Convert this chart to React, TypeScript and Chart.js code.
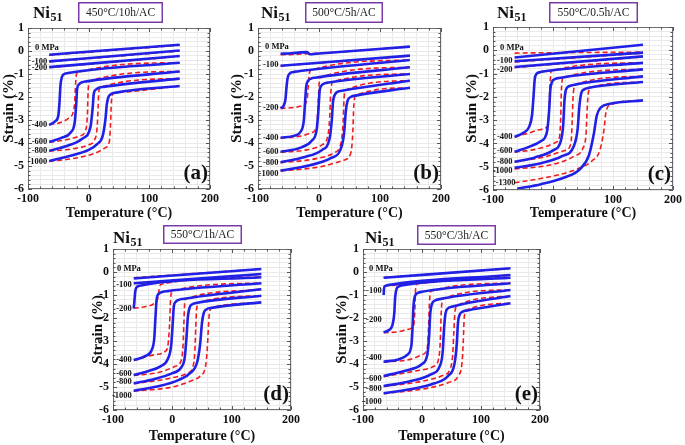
import React, { useEffect, useRef } from 'react';
import { Chart, registerables } from 'chart.js';

Chart.register(...registerables);

const FONT = "'Liberation Serif', 'Times New Roman', 'DejaVu Serif', serif";
const BLUE = '#2020e6';
const RED = '#f01c1c';

// ---------- Tick labels ----------
const X_TICK_LABELS = ['-100', '0', '100', '200'];
const Y_TICK_LABELS = ['1', '0', '-1', '-2', '-3', '-4', '-5', '-6'];

// ---------- Panel (a) 450°C/10h/AC ----------
const A_LABELS = ['0 MPa', '-100', '-200', '-400', '-600', '-800', '-1000'];
const A_LABEL_Y = [0.12, -0.45, -0.74, -3.22, -3.95, -4.34, -4.81];
const A_COOL = [
  [-65, -0.16, 150, 0.27],
  [-65, -0.45, 150, 0.02],
  [-65, -0.7, 150, -0.22],
  [-65, -3.22, -55, -3.05, -50, -2.8, -48, -2.2, -46.5, -1.5, -44, -1.12, -40, -1.0, -34, -0.96, 150, -0.51],
  [-65, -3.95, -45, -3.78, -30, -3.55, -23, -3.1, -20.5, -2.3, -19, -1.65, -16, -1.45, -11, -1.36, -4, -1.32, 150, -0.89],
  [-65, -4.34, -35, -4.12, -10, -3.8, 3, -3.3, 6.5, -2.5, 8.5, -1.85, 12, -1.68, 17, -1.6, 25, -1.56, 150, -1.2],
  [-65, -4.78, -30, -4.55, 0, -4.3, 14, -4.05, 23, -3.7, 27.5, -3.0, 30, -2.3, 33, -1.98, 37, -1.87, 45, -1.81, 150, -1.52],
];
const A_HEAT = [
  [-65, -0.18, 150, 0.25],
  [-65, -0.47, 150, 0.0],
  [-65, -0.72, 150, -0.23],
  [-65, -3.2, -45, -3.1, -33, -2.92, -26, -2.7, -23, -2.2, -21.5, -1.4, -19.5, -0.95, 150, -0.51],
  [-65, -3.97, -35, -3.85, -15, -3.7, -5, -3.45, -2, -2.7, -1, -1.8, 1.5, -1.31, 150, -0.89],
  [-65, -4.36, -25, -4.25, 0, -4.08, 10, -3.85, 14, -3.3, 15.5, -2.5, 16.5, -1.85, 19, -1.58, 150, -1.2],
  [-65, -4.8, -20, -4.65, 10, -4.45, 28, -4.2, 34, -3.95, 36, -3.2, 37.5, -2.2, 39.5, -1.88, 50, -1.8, 150, -1.52],
];

// ---------- Panel (b) 500°C/5h/AC ----------
const B_LABELS = ['0 MPa', '-100', '-200', '-400', '-600', '-800', '-1000'];
const B_LABEL_Y = [0.19, -0.61, -2.49, -3.77, -4.38, -4.84, -5.35];
const B_COOL = [
  [-63, -0.12, -45, -0.1, -30, -0.06, -20, -0.05, -15, -0.14, -5, -0.12, 149, 0.19],
  [-63, -0.64, 149, -0.2],
  [-63, -2.49, -58, -2.38, -55, -2.1, -53, -1.5, -51, -1.12, -48, -0.98, -43, -0.92, -36, -0.89, 149, -0.39],
  [-63, -3.77, -40, -3.68, -30, -3.5, -25, -3.05, -23, -2.3, -21, -1.55, -18, -1.3, -13, -1.2, -6, -1.16, 149, -0.71],
  [-63, -4.38, -30, -4.2, -12, -3.9, -4, -3.45, -1, -2.6, 1, -1.75, 4, -1.5, 9, -1.41, 16, -1.37, 149, -1.0],
  [-63, -4.84, -25, -4.62, 5, -4.3, 17, -3.85, 21, -3.0, 23, -2.2, 26, -1.9, 31, -1.77, 40, -1.72, 149, -1.29],
  [-63, -5.2, -15, -4.97, 20, -4.65, 35, -4.3, 41, -3.6, 44, -2.6, 47, -2.15, 52, -2.0, 62, -1.93, 149, -1.6],
];
const B_HEAT = [
  [-63, -0.16, -40, -0.15, -20, -0.12, 0, -0.1, 149, 0.19],
  [-63, -0.65, 149, -0.21],
  [-63, -2.5, -40, -2.45, -26, -2.36, -19.5, -2.1, -17.5, -1.5, -16, -1.0, -13, -0.83, 149, -0.39],
  [-63, -3.78, -30, -3.7, -12, -3.55, -4, -3.3, -1.5, -2.4, 0, -1.5, 3, -1.13, 149, -0.71],
  [-63, -4.4, -20, -4.3, 5, -4.08, 14, -3.75, 17.5, -2.9, 19, -1.95, 22, -1.35, 149, -1.0],
  [-63, -4.86, -5, -4.68, 25, -4.42, 36, -4.0, 39.5, -3.1, 41, -2.1, 44, -1.7, 149, -1.29],
  [-63, -5.22, 5, -5.02, 40, -4.75, 52, -4.45, 55.5, -3.5, 57, -2.4, 60, -1.94, 149, -1.6],
];

// ---------- Panel (c) 550°C/0.5h/AC ----------
const C_LABELS = ['0 MPa', '-100', '-200', '-400', '-600', '-800', '-1000', '-1300'];
const C_LABEL_Y = [0.1, -0.47, -0.83, -3.72, -4.32, -4.79, -5.18, -5.69];
const C_COOL = [
  [-64, -0.31, 150, 0.24],
  [-64, -0.47, 150, -0.1],
  [-64, -0.72, 150, -0.26],
  [-64, -3.72, -50, -3.55, -40, -3.3, -35, -2.8, -32.5, -2.0, -30.5, -1.25, -27.5, -1.02, -22, -0.94, -14, -0.9, 150, -0.54],
  [-64, -4.36, -40, -4.15, -20, -3.9, -10, -3.5, -6.5, -2.6, -4.5, -1.7, -1.5, -1.35, 3, -1.24, 10, -1.19, 150, -0.82],
  [-64, -4.79, -30, -4.6, 0, -4.3, 13, -3.9, 17, -3.2, 19, -2.2, 21.5, -1.7, 26, -1.55, 34, -1.49, 150, -1.12],
  [-64, -5.05, -20, -4.85, 15, -4.55, 35, -4.1, 41, -3.4, 44, -2.4, 47, -1.85, 52, -1.68, 60, -1.61, 150, -1.36],
  [-59, -5.94, -20, -5.75, 20, -5.45, 45, -5.1, 60, -4.5, 68, -3.6, 73, -2.8, 80, -2.45, 95, -2.3, 150, -2.15],
];
const C_HEAT = [
  [-64, -0.12, -30, -0.11, 150, -0.08],
  [-64, -0.5, 150, -0.12],
  [-64, -0.74, 150, -0.28],
  [-64, -3.72, -40, -3.55, -20, -3.4, -9, -3.25, -6.5, -2.5, -5, -1.5, -3, -0.88, 150, -0.54],
  [-64, -4.38, -20, -4.2, 5, -3.95, 11, -3.7, 13, -2.8, 14, -1.7, 17, -1.17, 150, -0.82],
  [-64, -4.8, -10, -4.55, 20, -4.3, 30, -4.0, 32, -3.0, 33.5, -2.0, 37, -1.48, 150, -1.12],
  [-64, -5.1, 0, -4.9, 35, -4.55, 50, -4.2, 55, -3.6, 57, -2.5, 59, -1.8, 63, -1.6, 150, -1.36],
  [-64, -5.69, 0, -5.4, 40, -5.1, 65, -4.75, 78, -4.3, 85, -3.4, 88, -2.7, 95, -2.35, 150, -2.15],
];

// ---------- Panel (d) 550°C/1h/AC ----------
const D_LABELS = ['0 MPa', '-100', '-200', '-400', '-600', '-800', '-1000'];
const D_LABEL_Y = [0.16, -0.54, -1.58, -3.83, -4.41, -4.77, -5.38];
const D_COOL = [
  [-65, -0.28, 150, 0.13],
  [-65, -0.49, 150, -0.09],
  [-65, -1.58, -64, -1.3, -62.5, -0.85, -60, -0.66, -55, -0.6, 150, -0.23],
  [-65, -3.83, -45, -3.65, -35, -3.4, -30.5, -2.9, -28.5, -2.0, -26.5, -1.2, -23, -0.95, -17, -0.87, -8, -0.83, 150, -0.49],
  [-65, -4.48, -40, -4.3, -20, -4.1, -8, -3.8, -2, -3.2, 0.5, -2.3, 2.5, -1.5, 5.5, -1.3, 11, -1.21, 18, -1.17, 150, -0.75],
  [-65, -4.84, -30, -4.65, 0, -4.4, 15, -4.15, 21, -3.7, 24, -2.8, 26, -2.0, 29, -1.55, 34, -1.4, 42, -1.34, 150, -1.03],
  [-65, -5.16, -20, -4.95, 10, -4.7, 30, -4.4, 42, -3.9, 47, -3.1, 50, -2.2, 53, -1.78, 58, -1.62, 66, -1.56, 150, -1.32],
];
const D_HEAT = [
  [-65, -0.25, 150, 0.13],
  [-65, -0.5, 150, -0.1],
  [-65, -1.58, -45, -1.5, -30, -1.35, -24, -1.1, -22, -0.7, -19, -0.53, 150, -0.23],
  [-65, -3.85, -30, -3.6, -12, -3.45, -7, -3.1, -4.5, -2.2, -3, -1.2, 0, -0.82, 150, -0.49],
  [-65, -4.5, -20, -4.35, 5, -4.1, 15, -3.85, 18, -3.2, 19.5, -2.2, 21, -1.3, 24, -1.16, 150, -0.75],
  [-65, -4.86, -10, -4.65, 25, -4.4, 35, -4.1, 38, -3.4, 39.5, -2.4, 41, -1.6, 45, -1.33, 150, -1.03],
  [-65, -5.18, 0, -5.0, 30, -4.75, 48, -4.5, 56, -4.1, 59, -3.3, 61, -2.3, 63, -1.7, 68, -1.55, 150, -1.32],
];

// ---------- Panel (e) 550°C/3h/AC ----------
const E_LABELS = ['0 MPa', '-100', '-200', '-400', '-600', '-800', '-1000'];
const E_LABEL_Y = [0.16, -0.81, -2.09, -3.72, -4.65, -5.06, -5.64];
const E_COOL = [
  [-65, -0.25, 150, 0.16],
  [-65, -1.0, -64.5, -0.75, -63, -0.62, -58, -0.57, 150, -0.13],
  [-65, -2.62, -56, -2.52, -50, -2.3, -47, -1.8, -45.5, -1.1, -43, -0.72, -39, -0.62, -32, -0.57, 150, -0.25],
  [-65, -3.9, -40, -3.8, -25, -3.6, -18, -3.2, -16, -2.4, -14.5, -1.5, -12, -1.05, -7, -0.91, 0, -0.86, 150, -0.49],
  [-65, -4.52, -30, -4.3, 0, -4.0, 9, -3.6, 12, -2.8, 14, -1.8, 17, -1.38, 22, -1.24, 30, -1.18, 150, -0.78],
  [-65, -4.96, -20, -4.75, 15, -4.45, 30, -4.1, 35, -3.5, 37.5, -2.4, 40, -1.78, 44, -1.58, 52, -1.5, 150, -1.04],
  [-65, -5.27, -20, -5.1, 20, -4.85, 45, -4.5, 55, -4.0, 59, -3.1, 61, -2.2, 64, -1.85, 69, -1.72, 77, -1.67, 150, -1.36],
];
const E_HEAT = [
  [-65, -0.24, 150, 0.15],
  [-65, -0.62, 150, -0.14],
  [-65, -2.64, -40, -2.6, -25, -2.5, -14, -2.3, -12, -1.6, -11, -0.8, -9, -0.52, 150, -0.25],
  [-65, -3.92, -20, -3.8, 0, -3.6, 9, -3.3, 11, -2.5, 12.5, -1.4, 15, -0.83, 150, -0.49],
  [-65, -4.55, -10, -4.3, 20, -4.1, 28, -3.8, 31, -3.0, 32.5, -1.8, 35, -1.17, 150, -0.78],
  [-65, -4.98, 0, -4.75, 35, -4.5, 48, -4.2, 52, -3.6, 54, -2.6, 56, -1.7, 60, -1.46, 150, -1.04],
  [-65, -5.29, 10, -5.05, 45, -4.8, 62, -4.5, 68, -3.9, 70, -3.0, 71.5, -2.0, 75, -1.66, 150, -1.36],
];

// ---------- Layout (absolute page pixels) ----------
type Layout = {
  left: number; top: number; w: number; h: number;
  area: { l: number; t: number; r: number; b: number };
  ni: { x: number; y: number };
  box: { x: number; y: number; w: number; h: number };
  yTitlePad: number;
  zeroLabelDx: number;
};

type Panel = {
  key: string; cond: string; letter: string;
  labels: string[]; labelY: number[]; cool: number[][]; heat: number[][];
  layout: Layout;
};

const PANELS: Panel[] = [
  {
    key: 'a', cond: '450°C/10h/AC', letter: '(a)', labels: A_LABELS, labelY: A_LABEL_Y, cool: A_COOL, heat: A_HEAT,
    layout: { left: 0, top: 0, w: 228, h: 222, area: { l: 28, t: 28, r: 210, b: 189 }, ni: { x: 33, y: 18 }, box: { x: 78, y: 2, w: 85, h: 21 }, yTitlePad: 0, zeroLabelDx: 7 },
  },
  {
    key: 'b', cond: '500°C/5h/AC', letter: '(b)', labels: B_LABELS, labelY: B_LABEL_Y, cool: B_COOL, heat: B_HEAT,
    layout: { left: 228, top: 0, w: 228, h: 222, area: { l: 258, t: 28, r: 441, b: 189 }, ni: { x: 261, y: 18 }, box: { x: 305, y: 2, w: 78, h: 21 }, yTitlePad: 0.5, zeroLabelDx: 7 },
  },
  {
    key: 'c', cond: '550°C/0.5h/AC', letter: '(c)', labels: C_LABELS, labelY: C_LABEL_Y, cool: C_COOL, heat: C_HEAT,
    layout: { left: 456, top: 0, w: 229, h: 222, area: { l: 493, t: 27, r: 675, b: 190 }, ni: { x: 497, y: 18 }, box: { x: 549, y: 2, w: 89, h: 21 }, yTitlePad: 7, zeroLabelDx: 7 },
  },
  {
    key: 'd', cond: '550°C/1h/AC', letter: '(d)', labels: D_LABELS, labelY: D_LABEL_Y, cool: D_COOL, heat: D_HEAT,
    layout: { left: 91, top: 222, w: 229, h: 223, area: { l: 113, t: 249, r: 291, b: 410 }, ni: { x: 113, y: 243 }, box: { x: 163, y: 225, w: 79, h: 19 }, yTitlePad: -2, zeroLabelDx: 4 },
  },
  {
    key: 'e', cond: '550°C/3h/AC', letter: '(e)', labels: E_LABELS, labelY: E_LABEL_Y, cool: E_COOL, heat: E_HEAT,
    layout: { left: 330, top: 222, w: 230, h: 223, area: { l: 363, t: 249, r: 540, b: 410 }, ni: { x: 365, y: 243 }, box: { x: 417, y: 225, w: 79, h: 20 }, yTitlePad: 3, zeroLabelDx: 6 },
  },
];

function toPts(arr: number[]) {
  const pts: { x: number; y: number }[] = [];
  for (let i = 0; i < arr.length; i += 2) pts.push({ x: arr[i], y: arr[i + 1] });
  return pts;
}

function isInt(v: number) {
  return Math.abs(v - Math.round(v)) < 1e-6;
}

function PanelChart({ p }: { p: Panel }) {
  const ref = useRef<HTMLCanvasElement | null>(null);
  const L = p.layout;
  useEffect(() => {
    if (!ref.current) return;
    const ca = { l: L.area.l - L.left, t: L.area.t - L.top, r: L.area.r - L.left, b: L.area.b - L.top };

    const deco = {
      id: 'deco_' + p.key,
      afterDraw(chart: any) {
        const ctx = chart.ctx as CanvasRenderingContext2D;
        const { left, top, right, bottom } = chart.chartArea;
        const xs = chart.scales.x;
        const ys = chart.scales.y;
        ctx.save();
        // frame
        ctx.strokeStyle = '#6e6e6e';
        ctx.lineWidth = 1;
        ctx.strokeRect(left + 0.5, top + 0.5, right - left - 1, bottom - top - 1);
        // inner ticks
        ctx.strokeStyle = '#555';
        ctx.beginPath();
        xs.ticks.forEach((t: any) => {
          const px = Math.round(xs.getPixelForValue(t.value)) + 0.5;
          const len = t.value % 100 === 0 ? 4 : 2.5;
          ctx.moveTo(px, bottom); ctx.lineTo(px, bottom - len);
          ctx.moveTo(px, top); ctx.lineTo(px, top + len);
        });
        ys.ticks.forEach((t: any) => {
          const py = Math.round(ys.getPixelForValue(t.value)) + 0.5;
          const len = isInt(t.value) ? 4 : 2.5;
          ctx.moveTo(left, py); ctx.lineTo(left + len, py);
          ctx.moveTo(right, py); ctx.lineTo(right - len, py);
        });
        ctx.stroke();

        // title "Ni51"
        const nx = L.ni.x - L.left;
        const ny = L.ni.y - L.top;
        ctx.fillStyle = '#111';
        ctx.font = `bold 17px ${FONT}`;
        ctx.textAlign = 'left';
        ctx.textBaseline = 'alphabetic';
        ctx.fillText('Ni', nx, ny);
        const w = ctx.measureText('Ni').width;
        ctx.font = `bold 12px ${FONT}`;
        ctx.fillText('51', nx + w + 0.5, ny + 3);

        // condition box
        const bx = L.box.x - L.left;
        const by = L.box.y - L.top;
        ctx.strokeStyle = '#7a3aa8';
        ctx.lineWidth = 1.5;
        ctx.strokeRect(bx + 0.75, by + 0.75, L.box.w - 1.5, L.box.h - 1.5);
        ctx.font = `11.5px ${FONT}`;
        ctx.textAlign = 'center';
        ctx.textBaseline = 'middle';
        ctx.fillStyle = '#222';
        ctx.fillText(p.cond, bx + L.box.w / 2, by + L.box.h / 2 + 0.5);

        // panel letter
        ctx.font = `bold 21px ${FONT}`;
        ctx.textAlign = 'right';
        ctx.textBaseline = 'alphabetic';
        ctx.fillStyle = '#111';
        ctx.fillText(p.letter, right - 2, bottom - 10);

        // stress labels
        ctx.font = `bold 8.5px ${FONT}`;
        ctx.textBaseline = 'middle';
        p.labels.forEach((lab, i) => {
          const py = ys.getPixelForValue(p.labelY[i]);
          if (i === 0) {
            ctx.textAlign = 'left';
            ctx.fillText(lab, left + L.zeroLabelDx, py);
          } else {
            ctx.textAlign = 'right';
            const px = xs.getPixelForValue(p.cool[i][0]);
            ctx.fillText(lab, px - 2, py);
          }
        });
        ctx.restore();
      },
    };

    const datasets: any[] = [];
    p.cool.forEach((c) => {
      datasets.push({
        data: toPts(c), borderColor: BLUE, borderWidth: 2.6, pointRadius: 0,
        cubicInterpolationMode: 'monotone', fill: false, order: 0,
      });
    });
    p.heat.forEach((c) => {
      datasets.push({
        data: toPts(c), borderColor: RED, borderWidth: 1.6, borderDash: [5, 3], pointRadius: 0,
        cubicInterpolationMode: 'monotone', fill: false, order: 1,
      });
    });

    const tickFont = { family: FONT, size: 12, weight: 'bold' as const };
    const chart = new Chart(ref.current, {
      type: 'line',
      data: { datasets },
      options: {
        animation: false,
        responsive: false,
        maintainAspectRatio: false,
        devicePixelRatio: 1,
        layout: { padding: { left: 0, top: ca.t, right: L.w - ca.r, bottom: 0 } },
        plugins: { legend: { display: false }, tooltip: { enabled: false }, title: { display: false } },
        scales: {
          x: {
            type: 'linear', min: -100, max: 200,
            afterFit: (s: any) => { s.height = L.h - ca.b; },
            ticks: {
              stepSize: 20, autoSkip: false, maxRotation: 0, padding: 3, color: '#111', font: tickFont,
              maxTicksLimit: 100,
              callback: (v: any) => {
                const n = Number(v);
                if (n % 100 !== 0) return '';
                return X_TICK_LABELS[(n + 100) / 100];
              },
            },
            grid: { color: '#e9e9e9', lineWidth: 1, drawTicks: false },
            border: { display: false },
            title: {
              display: true, text: 'Temperature (°C)', color: '#111',
              font: { family: FONT, size: 14, weight: 'bold' }, padding: { top: 1.6, bottom: 0 },
            },
          },
          y: {
            type: 'linear', min: -6, max: 1,
            afterFit: (s: any) => { s.width = ca.l; },
            ticks: {
              stepSize: 0.2, autoSkip: false, padding: 4, color: '#111', font: tickFont,
              maxTicksLimit: 100,
              callback: (v: any) => {
                const n = Number(v);
                if (!isInt(n)) return '';
                return Y_TICK_LABELS[1 - Math.round(n)];
              },
            },
            grid: { color: '#e9e9e9', lineWidth: 1, drawTicks: false },
            border: { display: false },
            title: {
              display: true, text: 'Strain (%)', color: '#111',
              font: { family: FONT, size: 15, weight: 'bold' }, padding: { top: L.yTitlePad, bottom: 0 },
            },
          },
        },
      } as any,
      plugins: [deco],
    });
    return () => chart.destroy();
  }, []);

  return (
    <canvas
      ref={ref}
      width={L.w}
      height={L.h}
      style={{ position: 'absolute', left: L.left, top: L.top, width: L.w, height: L.h }}
    />
  );
}

export default function App() {
  return (
    <div style={{ position: 'fixed', left: 0, top: 0, width: 685, height: 445, background: '#fff', overflow: 'hidden' }}>
      {PANELS.map((p) => (
        <PanelChart key={p.key} p={p} />
      ))}
    </div>
  );
}
